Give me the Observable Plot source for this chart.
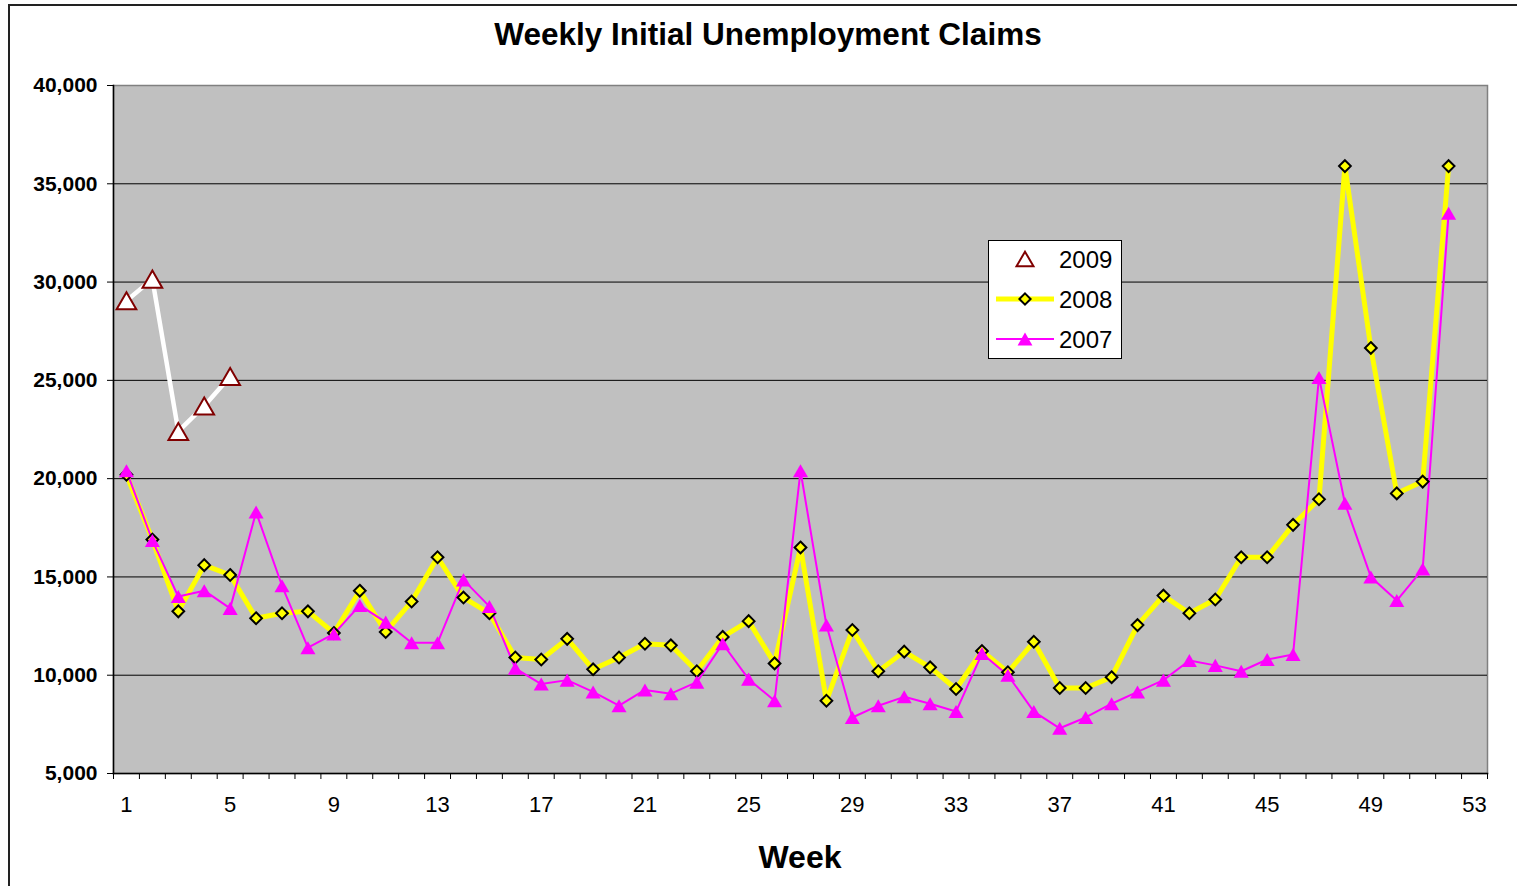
<!DOCTYPE html>
<html><head><meta charset="utf-8">
<script src="https://cdn.jsdelivr.net/npm/d3@7"></script>
<script src="https://cdn.jsdelivr.net/npm/@observablehq/plot@0.6"></script>
<style>
body{margin:0;background:#fff;font-family:"Liberation Sans",Arial,sans-serif;color:#000;}
#wrap{position:relative;width:1517px;height:886px;overflow:hidden;}
#frame{position:absolute;left:8px;top:4px;width:1530px;height:900px;border:2px solid #222;box-sizing:border-box;}
#chart{position:absolute;left:0;top:0;}
#title{position:absolute;left:0;width:1536px;top:19px;font-weight:bold;font-size:31.5px;line-height:30px;text-align:center;white-space:nowrap;}
#xlabel{position:absolute;left:0;width:1600px;top:842px;font-weight:bold;font-size:32px;line-height:31px;text-align:center;}
#legend{position:absolute;left:988px;top:240px;}
</style></head><body>
<div id="wrap">
  <div id="frame"></div>
  <div id="chart"></div>
  <div id="title">Weekly Initial Unemployment Claims</div>
  <div id="xlabel">Week</div>
  <div id="legend"></div>
</div>
<script>
// ---- data ----
const weeks = [1,2,3,4,5,6,7,8,9,10,11,12,13,14,15,16,17,18,19,20,21,22,23,24,25,26,27,28,29,30,31,32,33,34,35,36,37,38,39,40,41,42,43,44,45,46,47,48,49,50,51,52];
const claims2007 = [20400,16850,14000,14300,13400,18300,14550,11400,12100,13550,12700,11650,11650,14850,13500,10350,9550,9750,9150,8450,9250,9060,9650,11600,9800,8700,20400,12550,7850,8450,8900,8550,8150,11100,10000,8150,7300,7850,8550,9150,9750,10750,10500,10200,10800,11050,25150,18750,15000,13800,15400,33500];
const claims2008 = [20200,16900,13250,15600,15100,12900,13150,13250,12150,14300,12200,13750,16000,13950,13150,10900,10800,11850,10300,10900,11600,11520,10200,11950,12750,10600,16500,8700,12300,10200,11200,10400,9300,11230,10150,11700,9350,9350,9900,12550,14050,13150,13850,16000,16000,17650,18950,35900,26650,19250,19850,35900];
const claims2009 = [29050,30150,22400,23700,25200];
const seriesNames = ["2009","2008","2007"];
const yTickValues = [5000,10000,15000,20000,25000,30000,35000,40000];
const xTickLabels = [1,5,9,13,17,21,25,29,33,37,41,45,49,53];
const xCategoryEdges = [0.5,1.5,2.5,3.5,4.5,5.5,6.5,7.5,8.5,9.5,10.5,11.5,12.5,13.5,14.5,15.5,16.5,17.5,18.5,19.5,20.5,21.5,22.5,23.5,24.5,25.5,26.5,27.5,28.5,29.5,30.5,31.5,32.5,33.5,34.5,35.5,36.5,37.5,38.5,39.5,40.5,41.5,42.5,43.5,44.5,45.5,46.5,47.5,48.5,49.5,50.5,51.5,52.5,53.5];

const rows2007 = weeks.map((w,i)=>({week:w, claims:claims2007[i]}));
const rows2008 = weeks.map((w,i)=>({week:w, claims:claims2008[i]}));
const rows2009 = claims2009.map((c,i)=>({week:weeks[i], claims:c}));

// triangle centred on its bounding box (like Excel markers)
const tri = {draw(ctx, size){
  const s = Math.sqrt(size/0.433), h = s*Math.sqrt(3)/2;
  ctx.moveTo(0,-h/2); ctx.lineTo(s/2,h/2); ctx.lineTo(-s/2,h/2); ctx.closePath();
}};

const chart = Plot.plot({
  width:1517, height:886,
  marginLeft:113, marginRight:30, marginTop:85, marginBottom:113,
  x:{domain:[0.5,53.5]},
  y:{domain:[5000,40000]},
  style:{fontFamily:"Liberation Sans, Arial, sans-serif", background:"transparent", overflow:"visible", color:"#000"},
  marks:[
    Plot.frame({fill:"#c0c0c0", stroke:"#808080", strokeWidth:1.5}),
    Plot.gridY(yTickValues.slice(1,-1), {stroke:"#000", strokeOpacity:1, strokeWidth:1}),
    Plot.frame({anchor:"left", stroke:"#000", strokeWidth:1.5}),
    Plot.frame({anchor:"bottom", stroke:"#000", strokeWidth:1.5}),
    Plot.axisY(yTickValues, {tickSize:6, tickPadding:10, tickFormat:d3.format(","), fontSize:21, fontWeight:"bold", label:null}),
    Plot.axisX(xCategoryEdges, {tickSize:6, tickFormat:()=>"", label:null}),
    Plot.axisX(xTickLabels, {tickSize:0, tickPadding:23, fontSize:22, label:null}),
    Plot.line(rows2008, {x:"week", y:"claims", stroke:"#ffff00", strokeWidth:5}),
    Plot.line(rows2007, {x:"week", y:"claims", stroke:"#ff00ff", strokeWidth:2}),
    Plot.line(rows2009, {x:"week", y:"claims", stroke:"#ffffff", strokeWidth:4.5}),
    Plot.dot(rows2008, {x:"week", y:"claims", symbol:"diamond2", r:5.3, fill:"#ffff00", stroke:"#000", strokeWidth:2}),
    Plot.dot(rows2007, {x:"week", y:"claims", symbol:tri, r:5.6, fill:"#ff00ff", stroke:"none"}),
    Plot.dot(rows2009, {x:"week", y:"claims", symbol:tri, r:7.3, fill:"#ffffff", stroke:"#800000", strokeWidth:2})
  ]
});
document.getElementById("chart").appendChild(chart);

// ---- legend ----
const lg = d3.select("#legend").append("svg").attr("width",135).attr("height",120);
lg.append("rect").attr("x",0.5).attr("y",0.5).attr("width",133).attr("height",118).attr("fill","#fff").attr("stroke","#000");
const rowsY = [19,59,99];
const sym = (type,size)=>d3.symbol().type(type).size(size)();
// 2009
lg.append("path").attr("d",sym(tri,125)).attr("transform",`translate(37,${rowsY[0]})`).attr("fill","#fff").attr("stroke","#800000").attr("stroke-width",2);
// 2008
lg.append("line").attr("x1",8).attr("x2",66).attr("y1",rowsY[1]).attr("y2",rowsY[1]).attr("stroke","#ffff00").attr("stroke-width",5);
lg.append("path").attr("d",sym(d3.symbolDiamond2,80)).attr("transform",`translate(37,${rowsY[1]})`).attr("fill","#ffff00").attr("stroke","#000").attr("stroke-width",2);
// 2007
lg.append("line").attr("x1",8).attr("x2",66).attr("y1",rowsY[2]).attr("y2",rowsY[2]).attr("stroke","#ff00ff").attr("stroke-width",2);
lg.append("path").attr("d",sym(tri,95)).attr("transform",`translate(37,${rowsY[2]})`).attr("fill","#ff00ff");
seriesNames.forEach((n,i)=>{
  lg.append("text").attr("x",71).attr("y",rowsY[i]).attr("dy","0.36em").attr("font-size",24).attr("font-family","Liberation Sans, Arial, sans-serif").text(n);
});
</script>
</body></html>
